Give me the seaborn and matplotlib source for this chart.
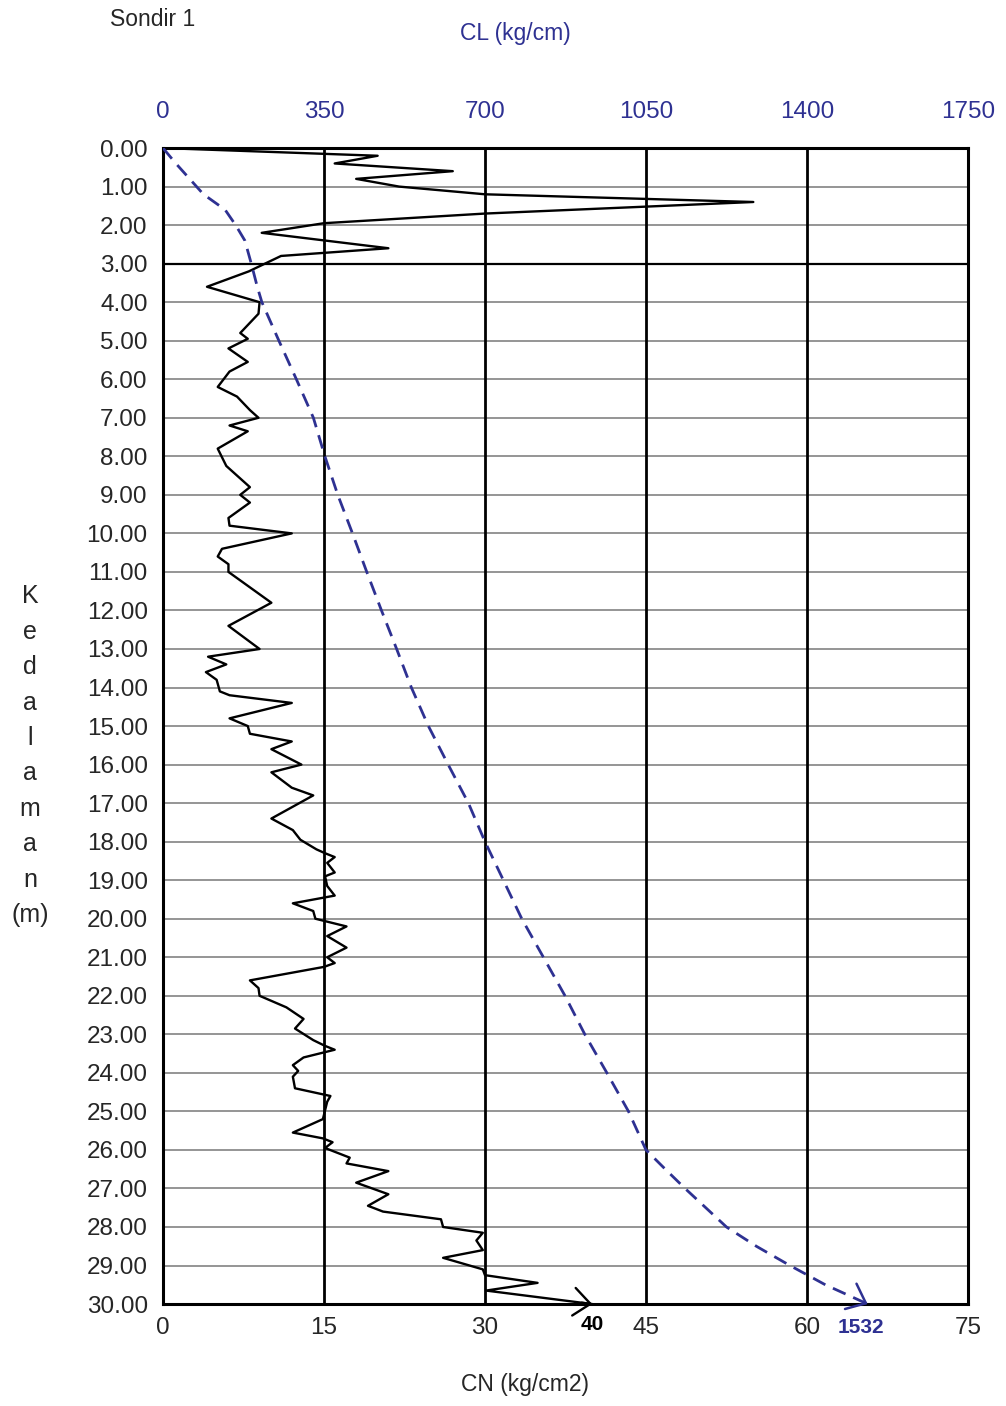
import matplotlib
matplotlib.use("Agg")
import matplotlib.pyplot as plt
import seaborn as sns

# depth (m) and cone resistance CN (kg/cm2)
depth_cn = [0.0, 0.2, 0.4, 0.6, 0.8, 1.0, 1.2, 1.4, 1.7, 1.95, 2.2, 2.6, 2.8, 3.2, 3.6, 4.0,
            4.3, 4.8, 4.95, 5.2, 5.55, 5.8, 6.2, 6.45, 6.8, 7.0, 7.2, 7.35, 7.8, 8.25, 8.8, 9.0,
            9.2, 9.6, 9.8, 10.0, 10.4, 10.6, 10.8, 11.0, 11.8, 12.4, 13.0, 13.2, 13.4, 13.6, 13.8,
            14.1, 14.2, 14.4, 14.8, 15.0, 15.2, 15.4, 15.6, 16.0, 16.2, 16.6, 16.8, 17.4, 17.7,
            17.95, 18.2, 18.3, 18.4, 18.55, 18.8, 18.9, 19.15, 19.4, 19.6, 19.8, 20.0, 20.2,
            20.45, 20.75, 21.0, 21.15, 21.25, 21.6, 21.8, 22.0, 22.3, 22.6, 22.85, 23.15, 23.3,
            23.4, 23.6, 23.8, 23.95, 24.1, 24.4, 24.6, 24.75, 25.2, 25.55, 25.7, 25.8, 25.95,
            26.2, 26.35, 26.55, 26.85, 27.15, 27.45, 27.6, 27.8, 28.0, 28.15, 28.35, 28.6, 28.8,
            29.1, 29.25, 29.45, 29.65, 30.0]
cn = [0, 20, 16, 27, 18, 22, 30, 55, 30, 15, 9.2, 21, 11, 8, 4.1, 9.0,
      8.9, 7.2, 7.9, 6.1, 7.9, 6.2, 5.1, 6.9, 8.1, 8.9, 6.2, 7.9, 5.1, 5.9, 8.1, 7.2,
      8.1, 6.1, 6.2, 12.0, 5.5, 5.1, 6.1, 6.1, 10.1, 6.1, 9.0, 4.2, 5.9, 4.0, 5.0,
      5.3, 6.2, 12.0, 6.2, 7.9, 8.1, 12.0, 10.1, 12.9, 10.1, 12.0, 14.0, 10.1, 12.1,
      12.8, 14.3, 15.1, 16.0, 15.3, 16.0, 15.1, 15.3, 16.0, 12.1, 14.0, 14.2, 17.1,
      15.3, 17.1, 15.3, 16.0, 15.0, 8.1, 8.9, 9.0, 11.5, 13.1, 12.3, 14.0, 15.1,
      16.0, 13.1, 12.1, 12.6, 12.1, 12.3, 15.6, 15.3, 14.9, 12.1, 14.9, 15.8, 15.1,
      17.4, 17.1, 21.0, 18.0, 21.0, 19.1, 20.5, 25.9, 26.1, 29.8, 29.2, 29.8, 26.1,
      29.8, 30.0, 34.9, 30.1, 40.0]

# depth (m) and total friction CL (kg/cm)
depth_cl = [0.0, 0.4, 0.8, 1.2, 1.6, 2.0, 2.4, 3.0, 3.6, 4.0, 5.0, 6.0, 7.0, 8.0, 9.0,
            10.0, 11.0, 12.0, 13.0, 14.0, 15.0, 16.0, 17.0, 18.0, 19.0, 20.0, 21.0, 22.0,
            23.0, 24.0, 25.0, 26.0, 26.5, 27.0, 27.5, 28.0, 28.5, 29.0, 29.5, 30.0]
cl = [0, 28, 58, 88, 135, 158, 178, 192, 205, 215, 252, 290, 327, 352, 380,
      412, 443, 475, 508, 540, 577, 620, 664, 700, 740, 780, 827, 874,
      917, 965, 1012, 1050, 1092, 1135, 1180, 1225, 1290, 1363, 1440, 1532]

cn_ticks = [0, 15, 30, 45, 60, 75]
cl_ticks = [0, 350, 700, 1050, 1400, 1750]
depth_ticks = list(range(0, 31))

blue = "#2e3192"

sns.set_style("white")
plt.rcParams["font.family"] = ["Liberation Sans", "DejaVu Sans"]

fig = plt.figure(figsize=(10.06, 14.06), dpi=100)
ax = fig.add_axes([0.162, 0.0725, 0.8002, 0.8222])
ax.set_xlim(0, 75)
ax.set_ylim(30, 0)

# grid
for d in depth_ticks:
    ax.axhline(d, color="black" if d == 3 else "#8c8c8c", lw=1.6 if d == 3 else 1.3, zorder=1)
for v in cn_ticks:
    ax.axvline(v, color="black", lw=2.0, zorder=1)

sns.lineplot(x=cn, y=depth_cn, sort=False, estimator=None, color="black", lw=1.7, ax=ax, zorder=3)

ax.set_xticks(cn_ticks)
ax.set_xticklabels([str(t) for t in cn_ticks])
ax.set_yticks(depth_ticks)
ax.set_yticklabels([f"{d:.2f}" for d in depth_ticks])
ax.tick_params(axis="x", length=0, pad=9, labelsize=17.5)
ax.tick_params(axis="y", length=0, pad=11, labelsize=17.5)
ax.set_xlabel("")
ax.set_ylabel("")
for s in ax.spines.values():
    s.set_color("black")
    s.set_linewidth(2.2)

# arrow at end of CN
fx = cn[-1] - 0.1 * (cn[-1] - cn[-2])
fy = depth_cn[-1] - 0.1 * (depth_cn[-1] - depth_cn[-2])
ax.annotate("", xy=(cn[-1], depth_cn[-1]), xytext=(fx, fy),
            arrowprops=dict(arrowstyle="->,head_length=1.2,head_width=1.0", color="black",
                            lw=1.7, shrinkA=0, shrinkB=0), annotation_clip=False)
ax.annotate(f"{cn[-1]:.0f}", xy=(cn[-1], depth_cn[-1]), xytext=(0, -8),
            textcoords="offset points", ha="center", va="top", fontsize=15,
            fontweight="bold", color="black", annotation_clip=False)

# CL on top axis
ax2 = ax.twiny()
ax2.set_xlim(0, 1750)
ax2.set_ylim(30, 0)
sns.lineplot(x=cl, y=depth_cl, sort=False, estimator=None, color=blue, lw=2.0,
             dashes=False, ax=ax2, zorder=4)
ax2.lines[-1].set_dashes((5, 3))
ax2.set_xticks(cl_ticks)
ax2.set_xticklabels([str(t) for t in cl_ticks], color=blue)
ax2.tick_params(axis="x", length=0, pad=18, labelsize=17.5)
ax2.set_xlabel("")
ax2.set_ylabel("")
for s in ax2.spines.values():
    s.set_visible(False)

gx = cl[-1] - 0.1 * (cl[-1] - cl[-2])
gy = depth_cl[-1] - 0.1 * (depth_cl[-1] - depth_cl[-2])
ax2.annotate("", xy=(cl[-1], depth_cl[-1]), xytext=(gx, gy),
             arrowprops=dict(arrowstyle="->,head_length=1.2,head_width=1.0", color=blue,
                             lw=1.8, shrinkA=0, shrinkB=0), annotation_clip=False)
ax2.annotate(f"{cl[-1]:.0f}", xy=(cl[-1], depth_cl[-1]), xytext=(-5, -10),
             textcoords="offset points", ha="center", va="top", fontsize=15,
             fontweight="bold", color=blue, annotation_clip=False)

# titles
fig.text(0.109, 0.986, "Sondir 1", ha="left", va="center", fontsize=16.5)
fig.text(0.512, 0.9765, "CL (kg/cm)", ha="center", va="center", fontsize=16.5, color=blue)
fig.text(0.522, 0.015, "CN (kg/cm2)", ha="center", va="center", fontsize=16.5)
fig.text(0.030, 0.4625, "K\ne\nd\na\nl\na\nm\na\nn\n(m)", ha="center", va="center",
         fontsize=18, linespacing=1.6)

fig.savefig("out.png", dpi=100)
